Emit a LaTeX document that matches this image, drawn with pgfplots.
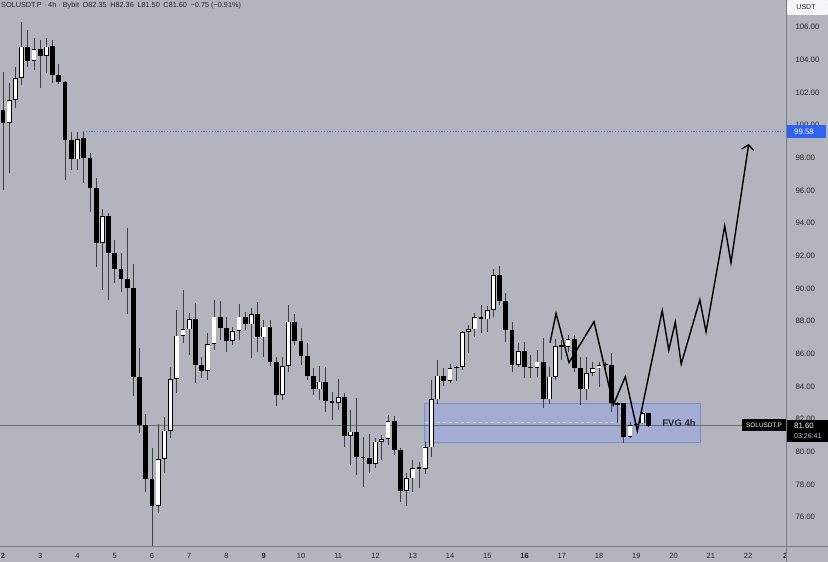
\documentclass[border=0pt]{standalone}
\usepackage{fontspec}
\setmainfont{Liberation Sans}
\usepackage{pgfplots}
\usepackage{pgfplotstable}
\pgfplotsset{compat=1.18}
\usetikzlibrary{arrows.meta}

\definecolor{bg}{RGB}{178,181,189}
\definecolor{wick}{RGB}{62,62,68}
\definecolor{fvg}{RGB}{164,172,212}
\definecolor{fvgline}{RGB}{125,138,205}
\definecolor{dotblue}{RGB}{80,108,228}
\definecolor{labblue}{RGB}{48,98,240}
\definecolor{txt}{RGB}{36,36,40}
\definecolor{sep}{RGB}{120,123,130}
\definecolor{pline}{RGB}{105,108,115}

% SOLUSDT.P 4h candles, i = candle index (6 per day, day 2 = 0)
\pgfplotstableread{
i o h l c
0 100.92 103.24 96.02 100.14
1 100.14 102.57 97.06 101.53
2 101.53 103.57 101.02 102.88
3 102.88 106.29 102.45 104.79
4 104.79 105.82 103.57 103.94
5 103.94 105.35 103.37 104.64
6 104.64 105.20 102.25 104.24
7 104.24 105.31 103.18 104.79
8 104.84 105.20 102.57 103.06
9 103.06 103.73 102.54 102.66
10 102.66 102.70 96.63 99.08
11 99.08 99.59 97.24 97.90
12 97.90 99.58 97.24 99.14
13 99.18 99.58 96.45 97.96
14 97.96 98.29 94.69 96.12
15 96.12 96.75 91.32 92.79
16 92.79 94.86 89.90 94.43
17 94.43 94.61 89.29 92.18
18 92.18 92.96 90.33 91.17
19 91.17 92.18 89.79 90.55
20 90.55 93.69 88.43 90.00
21 90.00 91.49 83.41 84.59
22 84.59 86.35 81.14 81.66
23 81.66 82.30 77.53 78.33
24 78.33 80.22 74.00 76.67
25 76.67 81.69 76.25 79.55
26 79.55 82.14 78.69 81.28
27 81.28 85.20 80.84 84.45
28 84.45 88.67 83.59 87.10
29 87.10 89.90 86.65 87.49
30 87.49 88.49 85.92 88.10
31 88.10 89.10 84.20 85.30
32 85.30 85.81 84.51 84.94
33 84.94 87.26 84.38 86.59
34 86.59 89.29 86.22 88.26
35 88.26 89.24 86.84 87.59
36 87.59 88.24 86.10 86.79
37 86.79 87.65 86.53 87.40
38 87.40 89.04 86.84 88.26
39 88.26 88.57 87.45 87.80
40 87.80 88.80 85.73 88.41
41 88.41 89.18 86.12 87.00
42 87.00 88.06 85.81 87.65
43 87.65 88.06 85.24 85.51
44 85.51 85.81 82.80 83.47
45 83.47 85.81 83.16 85.24
46 85.24 88.98 84.90 87.96
47 87.96 88.43 86.53 86.78
48 86.78 87.57 85.30 85.86
49 85.86 86.65 84.39 84.63
50 84.63 85.12 83.47 83.82
51 83.82 85.24 83.16 84.28
52 84.28 85.20 82.45 83.10
53 83.10 83.67 81.94 82.99
54 82.99 84.45 82.55 83.33
55 83.33 83.59 80.30 80.98
56 80.98 82.55 79.18 81.22
57 81.22 83.29 78.57 79.65
58 79.65 80.91 77.85 79.60
59 79.60 81.08 78.71 79.25
60 79.25 80.83 79.00 80.61
61 80.61 81.02 79.48 80.77
62 80.77 82.24 80.40 81.88
63 81.88 82.18 79.80 80.10
64 80.10 80.22 76.94 77.59
65 77.59 78.71 76.67 78.37
66 78.37 79.49 77.53 78.98
67 78.98 79.38 77.78 78.96
68 78.96 80.61 78.63 80.27
69 80.27 84.39 79.69 83.20
70 83.20 85.61 82.90 84.65
71 84.65 85.12 84.02 84.34
72 84.34 85.37 84.22 85.10
73 85.10 85.24 84.34 85.20
74 85.20 87.39 85.00 87.34
75 87.34 87.75 86.04 87.49
76 87.49 88.47 87.02 88.23
77 88.23 88.98 87.28 88.10
78 88.10 88.92 87.34 88.67
79 88.67 91.16 88.26 90.82
80 90.82 91.37 88.98 89.24
81 89.24 89.71 86.73 87.45
82 87.45 87.94 84.88 85.30
83 85.30 86.67 85.16 86.16
84 86.16 86.73 84.51 85.17
85 85.17 85.92 84.53 85.14
86 85.14 86.22 84.59 85.51
87 85.51 86.94 82.65 83.20
88 83.20 85.20 82.90 84.59
89 84.59 86.88 84.38 86.47
90 86.47 86.84 85.61 86.43
91 86.43 87.14 86.10 86.88
92 86.88 87.14 84.88 85.10
93 85.10 85.81 82.86 83.82
94 83.82 85.81 83.16 84.83
95 84.83 85.51 84.63 85.10
96 85.10 85.51 83.98 85.30
97 85.30 85.51 84.88 85.28
98 85.28 86.02 82.45 82.96
99 82.86 83.06 81.74 82.96
100 82.99 83.00 80.51 80.91
101 80.91 81.83 80.81 81.63
102 81.63 81.77 81.56 81.69
103 81.74 82.45 81.69 82.38
104 82.35 82.36 81.50 81.60
}\candles

\begin{document}
\begin{tikzpicture}
\fill[bg] (0,0) rectangle (828pt,562pt);
\begin{axis}[
  at={(0pt,16pt)}, anchor=south west,
  scale only axis, width=786pt, height=546pt,
  xmin=-0.483, xmax=126.12, ymin=74.224, ymax=107.653,
  axis x line*=bottom, axis y line*=right,
  axis line style={draw=none},
  major tick length=0pt,
  xtick={0,6,...,126},
  xticklabels={\textbf{2},3,4,5,6,7,8,\textbf{9},10,11,12,13,14,15,\textbf{16},17,18,19,20,21,22,\textbf{2}},
  xticklabel style={font=\fontsize{7.5}{8}\selectfont, text=txt, yshift=-4pt},
  ytick={76,78,...,106},
  yticklabel style={font=\fontsize{7.8}{8}\selectfont, text=txt, anchor=west, xshift=6pt,
    /pgf/number format/.cd, fixed, fixed zerofill, precision=2, assume math mode=true},
]
% FVG zone
\addplot[fill=fvg, draw=fvgline, line width=0.6pt] coordinates {(67.9,80.60) (112.3,80.60) (112.3,82.94) (67.9,82.94)} -- cycle;
\addplot[draw=white!45!fvg, dashed, line width=0.5pt] coordinates {(67.9,81.78) (99.4,81.78) (99.4,82.94)};
% last price and target
\addplot[pline, line width=0.5pt] coordinates {(-0.5,81.60) (119.0,81.60)};
\addplot[dotblue, line width=0.8pt, dash pattern=on 1.2pt off 1.6pt] coordinates {(12.9,99.58) (126.2,99.58)};
% wicks
\addplot[draw=none, mark=none, error bars/.cd, y dir=plus, y explicit, error mark=none,
  error bar style={draw=wick, line width=0.8pt}]
  table[x=i, y=l, y error plus expr={\thisrow{h}-\thisrow{l}}] {\candles};
% bodies (black, then white fill for rising candles)
\addplot[draw=none, mark=none, error bars/.cd, y dir=plus, y explicit, error mark=none,
  error bar style={draw=black, line width=4.8pt}]
  table[x=i, y expr={min(\thisrow{o},\thisrow{c})}, y error plus expr={max(abs(\thisrow{c}-\thisrow{o}),0.07)}] {\candles};
\addplot[draw=none, mark=none, restrict expr to domain={\thisrow{c}-\thisrow{o}}{0.12:100},
  error bars/.cd, y dir=plus, y explicit, error mark=none,
  error bar style={draw=white, line width=3.5pt}]
  table[x=i, y expr={\thisrow{o}+0.045}, y error plus expr={\thisrow{c}-\thisrow{o}-0.09}] {\candles};
% projected path
\addplot[black, line width=1.4pt, -{Straight Barb[length=5pt,width=12pt,line width=1.3pt]}] coordinates {
  (88.11,86.67) (89.08,88.47) (91.17,85.45) (95.20,87.96) (98.31,82.86) (100.24,84.59)
  (102.17,81.27) (106.18,88.63) (107.24,86.22) (108.29,87.93) (109.24,85.36) (112.24,89.29)
  (113.24,87.34) (116.25,93.82) (117.26,91.57) (120.11,98.84)};
\end{axis}
% panel separators
\draw[sep, line width=0.6pt] (786pt,0) -- (786pt,562pt);
\draw[sep, line width=0.6pt] (0,16pt) -- (828pt,16pt);
% header
\node[anchor=west, inner sep=0, font=\fontsize{7.3}{8}\selectfont, text=txt] at (1pt,556pt)
  {SOLUSDT.P · 4h · Bybit\enspace O82.35\enspace H82.36\enspace L81.50\enspace C81.60\enspace −0.75 (−0.91\%)};
% price scale extras
\fill[white!88!bg, rounded corners=1pt] (787pt,547pt) rectangle (828pt,562pt);
\node[font=\fontsize{7}{7}\selectfont, text=txt] at (806pt,555pt) {USDT};
\fill[labblue] (786.5pt,423.5pt) rectangle (826pt,436.5pt);
\node[anchor=west, inner sep=0, font=\fontsize{7.8}{8}\selectfont, text=white] at (794pt,430pt) {99.58};
\fill[black] (786.5pt,120pt) rectangle (828pt,141.5pt);
\node[anchor=west, inner sep=0, font=\fontsize{7.8}{8}\selectfont, text=white] at (794pt,136pt) {81.60};
\node[anchor=west, inner sep=0, font=\fontsize{7}{7}\selectfont, text=white!80!black] at (794pt,125.5pt) {03:26:41};
\fill[black] (742pt,130.6pt) rectangle (786pt,142.6pt);
\node[font=\fontsize{6.4}{7}\selectfont, text=white] at (764pt,136.6pt) {SOLUSDT.P};
% zone label
\node[font=\bfseries\fontsize{9.5}{10}\selectfont, text=txt] at (679pt,139.3pt) {FVG 4h};
\pgfresetboundingbox
\path[use as bounding box] (0,0) rectangle (828pt,562pt);
\end{tikzpicture}
\end{document}
